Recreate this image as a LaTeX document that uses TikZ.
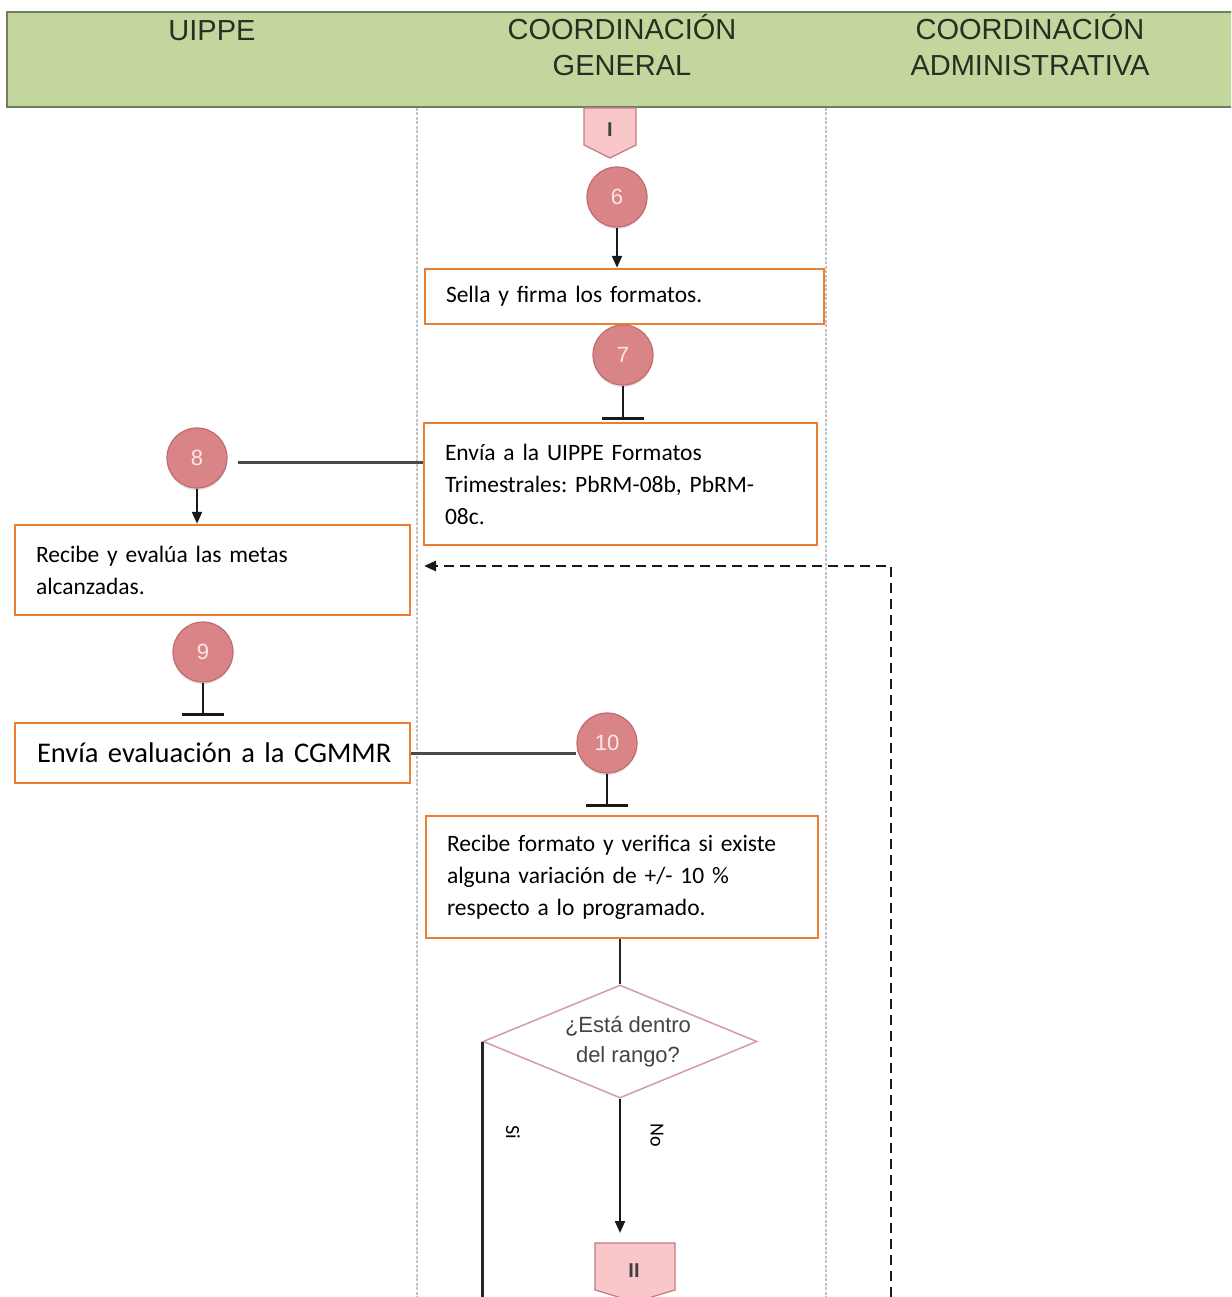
\documentclass[tikz,border=0pt]{standalone}
\usepackage{fontspec}
\setmainfont{Carlito}[WordSpace={0.9}]
\newfontfamily\hdfont{Liberation Sans}
\usetikzlibrary{arrows.meta,shapes.geometric,calc}
\frenchspacing

\definecolor{hdgreen}{HTML}{C3D69E}
\definecolor{hdrule}{HTML}{6F7F5E}
\definecolor{hdtext}{HTML}{263022}
\definecolor{boxorange}{HTML}{ED7D31}
\definecolor{ballred}{HTML}{D98587}
\definecolor{ballrim}{HTML}{C46A6E}
\definecolor{balltext}{HTML}{FBE8E8}
\definecolor{conpink}{HTML}{F9C6CA}
\definecolor{conrim}{HTML}{C27C80}
\definecolor{lanegray}{HTML}{C4C4C4}
\definecolor{linegray}{HTML}{4A4A4A}
\definecolor{diarim}{HTML}{D89C9E}
\definecolor{diatext}{HTML}{444444}

\tikzset{
  hdlabel/.style={font=\hdfont\fontsize{29}{36}\selectfont, text=hdtext, align=center, inner sep=0pt},
  lane/.style={draw=lanegray, line width=1.6pt, dash pattern=on 3pt off 1.5pt},
  stepbox/.style={draw=boxorange, line width=2.5pt, fill=white, inner xsep=21pt, inner ysep=0pt,
    align=left, font=\fontsize{23.5}{32}\selectfont},
  stepball/.style={circle, fill=ballred, draw=ballrim, line width=1.2pt, minimum size=60pt,
    inner sep=0pt, text=balltext, font=\hdfont\fontsize{22}{22}\selectfont,
    preaction={fill=black, opacity=0.12, transform canvas={yshift=-2pt}}},
  offpage/.style={draw=conrim, fill=conpink, line width=1.2pt},
  offlabel/.style={font=\hdfont\bfseries\fontsize{20}{20}\selectfont, text=black!75, inner sep=0pt},
  decision/.style={diamond, draw=diarim, fill=white, line width=1.5pt, minimum width=274pt,
    minimum height=113pt, inner sep=0pt},
  decisiontext/.style={align=center, text=diatext, inner sep=0pt,
    font=\hdfont\fontsize{22}{30}\selectfont},
  flow/.style={draw=black!90, line width=2.2pt, -{Triangle[length=12pt,width=10pt]}},
  stem/.style={draw=black!90, line width=2.2pt, -{Bar[width=42pt,line width=2.5pt]}},
  link/.style={draw=linegray, line width=3pt},
  feedback/.style={draw=black!90, line width=2.5pt, dash pattern=on 10pt off 6pt,
    -{Triangle[length=12pt,width=10pt]}},
  branch/.style={font=\fontsize{20}{20}\selectfont, rotate=-90, inner sep=0pt}
}

\begin{document}
\begin{tikzpicture}[x=1pt,y=-1pt]
\useasboundingbox (0,0) rectangle (1231,1297);
\clip (0,0) rectangle (1231,1297);

% header band with the three lanes
\fill[white] (0,0) rectangle (1231,1297);
\filldraw[fill=hdgreen, draw=hdrule, line width=1.8pt] (7,12) rectangle (1240,107);
\node[hdlabel] (hU) at (212,30.5) {UIPPE};
\node[hdlabel] (hG) at (622,45.5) {COORDINACIÓN\\GENERAL};
\node[hdlabel] (hA) at (1030,45.5) {COORDINACIÓN\\ADMINISTRATIVA};

% lane separators
\draw[lane] (417,108) -- (417,1297);
\draw[lane] (826,108) -- (826,1297);

% incoming off-page connector
\draw[offpage] (584,108) -- (636,108) -- (636,145) -- (610,158) -- (584,145) -- cycle;
\node[offlabel] (offI) at (610,130) {I};

% steps
\node[stepball] (c6) at (617,197) {6};
\node[stepbox, text width=357pt, minimum width=399pt, minimum height=55pt] (b1) at (624.5,296.5)
  {Sella y firma los formatos.};
\node[stepball] (c7) at (623,355) {7};
\node[stepbox, text width=351pt, minimum width=393pt, minimum height=122pt] (b2) at (620.5,484)
  {Envía a la UIPPE Formatos\\Trimestrales: PbRM-08b, PbRM-\\08c.};
\node[stepball] (c8) at (197,458) {8};
\node[stepbox, text width=353pt, minimum width=395pt, minimum height=90pt] (b3) at (212.5,570)
  {Recibe y evalúa las metas\\alcanzadas.};
\node[stepball] (c9) at (203,652) {9};
\node[stepbox, inner xsep=22pt, text width=351pt, minimum width=395pt, minimum height=60pt,
  font=\fontsize{28.5}{34}\selectfont] (b4) at (212.5,753)
  {\mbox{Envía evaluación a la CGMMR}};
\node[stepball] (c10) at (607,743) {10};
\node[stepbox, text width=350pt, minimum width=392pt, minimum height=122pt] (b5) at (622,877)
  {Recibe formato y verifica si existe\\alguna variación de +/- 10 \%\\respecto a lo programado.};
\node[decision] (dec) at (620,1041.5) {};
\node[decisiontext] (decText) at (628,1042) {¿Está dentro\\del rango?};

% outgoing off-page connector
\coordinate (iiTop) at (635,1243);
\draw[offpage] (595,1243) -- (675,1243) -- (675,1290) -- (635,1302) -- (595,1290) -- cycle;
\node[offlabel] (offII) at (634,1271) {II};

% free ends
\coordinate (siEnd) at (480,1297);
\coordinate (dashStart) at (891,1297);
\coordinate (dashEnd) at (424,566);

% connectors
\draw[flow] (c6.south) -- (c6.south |- b1.north);
\draw[stem, shorten >=2pt] (c7.south) -- (c7.south |- b2.north);
\draw[link, shorten <=10pt] ([yshift=-4pt]c8.east) -- ([yshift=-4pt]c8.east -| b2.west);
\draw[flow] (c8.south) -- (c8.south |- b3.north);
\draw[stem, shorten >=6pt] (c9.south) -- (c9.south |- b4.north);
\draw[link] (b4.east) -- (b4.east -| c10.west);
\draw[stem, shorten >=8pt] (c10.south) -- (c10.south |- b5.north);
\draw[draw=black!85, line width=2.5pt] (dec.north |- b5.south) -- (dec.north);
\draw[draw=black!85, line width=2.5pt] (dec.west) -- (dec.west |- siEnd);
\draw[flow, shorten >=10pt] (dec.south) -- (dec.south |- iiTop);
\draw[feedback] (dashStart) |- (dashEnd);

% branch labels
\node[branch] (lSi) at (513,1132) {Si};
\node[branch] (lNo) at (657,1135) {No};
\end{tikzpicture}
\end{document}
